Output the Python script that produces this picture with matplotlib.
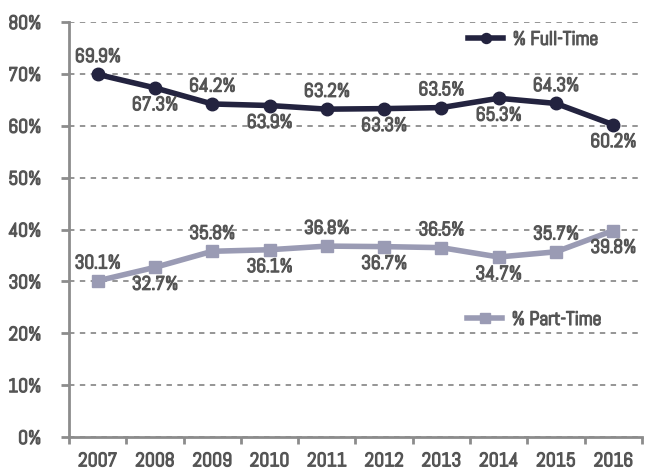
import numpy as np
import matplotlib
matplotlib.use("Agg")
import matplotlib.pyplot as plt
import matplotlib.patheffects as pe

# data
years = ['2007', '2008', '2009', '2010', '2011', '2012', '2013', '2014', '2015', '2016']
full_time = [69.9, 67.3, 64.2, 63.9, 63.2, 63.3, 63.5, 65.3, 64.3, 60.2]
part_time = [30.1, 32.7, 35.8, 36.1, 36.8, 36.7, 36.5, 34.7, 35.7, 39.8]
full_pos = ['above', 'below', 'above', 'below', 'above', 'below', 'above', 'below', 'above', 'below']
part_pos = ['above', 'below', 'above', 'below', 'above', 'below', 'above', 'below', 'above', 'below']

plt.rcParams['font.family'] = ['Abel', 'Liberation Sans Narrow', 'DejaVu Sans']

text_col = '#555555'
axis_col = '#8c8c8c'
full_col = '#23233f'
part_col = '#9a9bb4'
# Abel has only a regular weight, so thicken the glyphs a little
bold = [pe.withStroke(linewidth=0.9, foreground=text_col)]

fig = plt.figure(figsize=(6.54, 4.70), dpi=100)
ax = fig.add_axes([0.1055, 0.0702, 0.876, 0.883])

x = np.arange(len(years))
ax.plot(x, full_time, color=full_col, lw=4, marker='o', ms=9, label='% Full-Time', zorder=3)
ax.plot(x, part_time, color=part_col, lw=4, marker='s', ms=9, label='% Part-Time', zorder=3)

def add_labels(vals, pos):
    for i, (v, p) in enumerate(zip(vals, pos)):
        off = 12.5 if p == 'above' else -12.5
        ax.annotate('%.1f%%' % v, (i, v), xytext=(0, off), textcoords='offset points',
                    ha='center', va='center', fontsize=14, color=text_col,
                    path_effects=bold, zorder=4)

add_labels(full_time, full_pos)
add_labels(part_time, part_pos)

ax.set_xlim(-0.5, len(years) - 0.5)
ax.set_ylim(0, 80)
ax.set_yticks(range(0, 81, 10))
ax.set_yticklabels(['%d%%' % t for t in range(0, 81, 10)])
ax.set_xticks(x)
ax.set_xticklabels(years)
ax.set_xticks(np.arange(-0.5, len(years)), minor=True)
ax.tick_params(axis='x', which='major', length=0, pad=11)
ax.tick_params(axis='x', which='minor', length=5, width=2, color=axis_col, direction='out')
ax.tick_params(axis='y', length=6, width=2, color=axis_col, pad=14)
for lab in ax.get_xticklabels() + ax.get_yticklabels():
    lab.set_fontsize(14)
    lab.set_color(text_col)
    lab.set_path_effects(bold)

ax.yaxis.grid(True, ls=(0, (3, 3)), color='#8c8c8c', lw=1.3)
ax.set_axisbelow(True)
for s in ['top', 'right']:
    ax.spines[s].set_visible(False)
for s in ['left', 'bottom']:
    ax.spines[s].set_color(axis_col)
    ax.spines[s].set_linewidth(2)

h, l = ax.get_legend_handles_labels()
leg1 = ax.legend([h[0]], [l[0]], loc='center', bbox_to_anchor=(0.81, 0.957), frameon=False,
                 handlelength=1.8, handletextpad=0.5, prop={'size': 14},
                 labelcolor=text_col, markerscale=0.8)
ax.add_artist(leg1)
leg2 = ax.legend([h[1]], [l[1]], loc='center', bbox_to_anchor=(0.812, 0.282), frameon=False,
                 handlelength=1.8, handletextpad=0.5, prop={'size': 14},
                 labelcolor=text_col, markerscale=0.8)
for leg in (leg1, leg2):
    for t in leg.get_texts():
        t.set_path_effects(bold)

fig.savefig('out.png', dpi=100)
